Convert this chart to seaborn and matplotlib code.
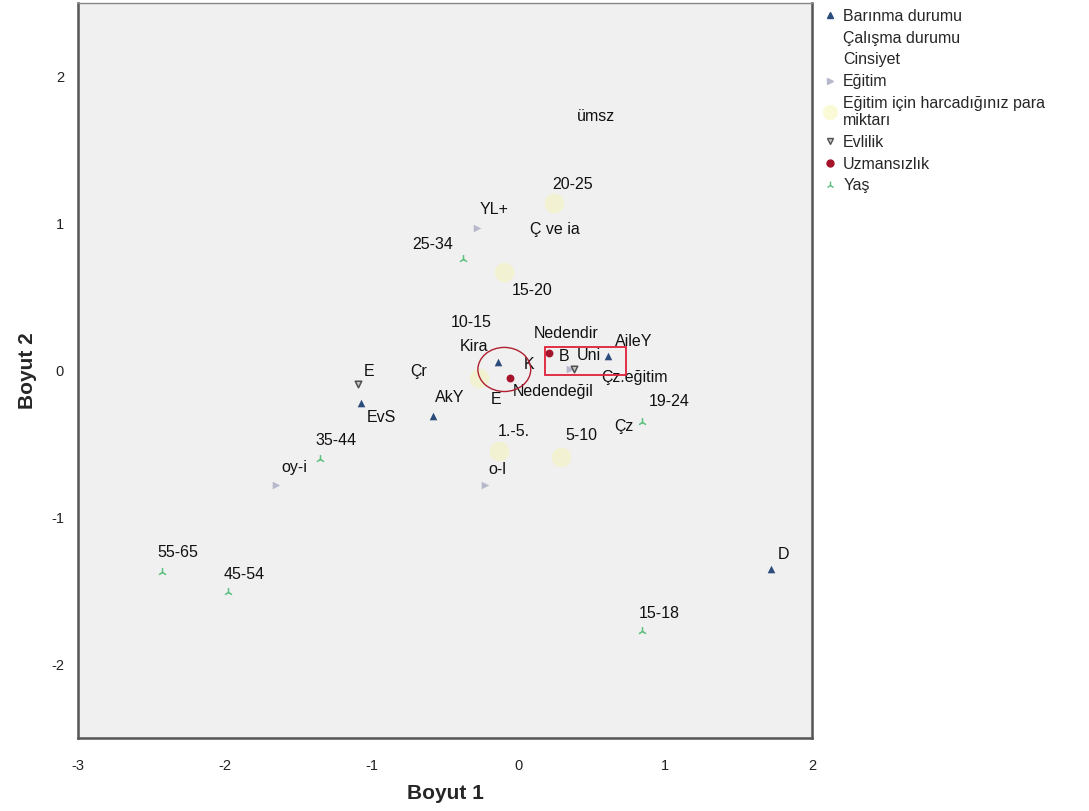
import numpy as np
import pandas as pd
import matplotlib
matplotlib.use("Agg")
import matplotlib.pyplot as plt
from matplotlib.lines import Line2D
from matplotlib.patches import Ellipse, Rectangle
import seaborn as sns

# ---------------- data ----------------
barinma_lab = ["Kira", "AileY", "EvS", "AkY", "D"]
barinma_x = [-0.14, 0.61, -1.07, -0.58, 1.72]
barinma_y = [0.06, 0.10, -0.22, -0.31, -1.35]

calisma_lab = ["Çr", "Çz", "Ç ve ia", "Çz.eğitim", "ümsz"]
calisma_x = [-0.68, 0.72, 0.25, 0.79, 0.53]
calisma_y = [-0.01, -0.38, 0.96, -0.05, 1.73]

cinsiyet_lab = ["K", "E"]
cinsiyet_x = [0.07, -0.15]
cinsiyet_y = [0.04, -0.20]

egitim_lab = ["YL+", "oy-i", "o-l", "Uni"]
egitim_x = [-0.28, -1.65, -0.23, 0.35]
egitim_y = [0.97, -0.78, -0.78, 0.01]

para_lab = ["20-25", "15-20", "10-15", "1.-5.", "5-10"]
para_x = [0.24, -0.10, -0.27, -0.13, 0.29]
para_y = [1.14, 0.67, -0.05, -0.55, -0.59]

evlilik_lab = ["E", "B"]
evlilik_x = [-1.09, 0.38]
evlilik_y = [-0.09, 0.01]

uzman_lab = ["Nedendir", "Nedendeğil"]
uzman_x = [0.21, -0.06]
uzman_y = [0.12, -0.05]

yas_lab = ["25-34", "35-44", "55-65", "45-54", "15-18", "19-24"]
yas_x = [-0.38, -1.35, -2.43, -1.98, 0.84, 0.84]
yas_y = [0.76, -0.60, -1.37, -1.51, -1.77, -0.35]

legend_names = ["Barınma durumu", "Çalışma durumu", "Cinsiyet", "Eğitim",
                "Eğitim için harcadığınız para\nmiktarı", "Evlilik", "Uzmansızlık", "Yaş"]

x_ticks = [-3, -2, -1, 0, 1, 2]
y_ticks = [-2, -1, 0, 1, 2]

# ---------------- styling ----------------
sns.set_style("white")
plt.rcParams["font.family"] = ["Liberation Sans", "DejaVu Sans"]

groups = [
    # name, labels, x, y, marker, color, size, alpha, label offsets (pixels)
    (legend_names[0], barinma_lab, barinma_x, barinma_y, "^", "#2c4c7c", 30, 1.0,
     [(-24, 15), (26, 14), (20, -15), (16, 19), (13, 14)]),
    (legend_names[1], calisma_lab, calisma_x, calisma_y, None, None, 0, 0,
     [(0, 0)] * 5),
    (legend_names[2], cinsiyet_lab, cinsiyet_x, cinsiyet_y, None, None, 0, 0,
     [(0, 0)] * 2),
    (legend_names[3], egitim_lab, egitim_x, egitim_y, ">", "#b8b8cc", 30, 1.0,
     [(17, 18), (18, 18), (13, 16), (19, 14)]),
    (legend_names[4], para_lab, para_x, para_y, "o", "#f6f6b0", 200, 0.45,
     [(19, 18), (28, -18), (-8, 55), (14, 20), (20, 22)]),
    (legend_names[5], evlilik_lab, evlilik_x, evlilik_y, "v", "#505050", 22, 1.0,
     [(11, 12), (-10, 13)]),
    (legend_names[6], uzman_lab, uzman_x, uzman_y, "o", "#a5142a", 32, 1.0,
     [(17, 19), (44, -14)]),
    (legend_names[7], yas_lab, yas_x, yas_y, "2", "#5cbf7e", 40, 1.0,
     [(-30, 14), (16, 18), (16, 19), (16, 18), (18, 17), (27, 20)]),
]

fig = plt.figure(figsize=(10.89, 8.11), dpi=100)
ax = fig.add_axes([78 / 1089, 73 / 811, 734 / 1089, 735 / 811])
ax.set_facecolor("#f0f0f0")

handles = []
for name, labs, xs, ys, mk, col, size, alpha, offs in groups:
    df = pd.DataFrame({"x": xs, "y": ys, "lab": labs})
    if mk is not None:
        if mk == "2":
            sns.scatterplot(data=df, x="x", y="y", marker=mk, color=col, s=size,
                            linewidth=1.1, ax=ax, legend=False, zorder=3)
        elif mk == "v":
            sns.scatterplot(data=df, x="x", y="y", marker=mk, facecolor="#c8c8c8",
                            edgecolor=col, linewidth=1.1, s=size, ax=ax, legend=False, zorder=3)
        else:
            sns.scatterplot(data=df, x="x", y="y", marker=mk, color=col, s=size,
                            alpha=alpha, linewidth=0, ax=ax, legend=False, zorder=3)
        for (lx, ly, lt), (dx, dy) in zip(zip(xs, ys, labs), offs):
            ax.annotate(lt, (lx, ly), xytext=(dx, dy), textcoords="offset pixels",
                        ha="center", va="center", fontsize=11.5, color="#111111", zorder=4)
        if mk == "o" and alpha < 1:
            h = Line2D([], [], marker="o", linestyle="None", markersize=11,
                       markerfacecolor=col, markeredgecolor="none", alpha=0.5)
        elif mk == "v":
            h = Line2D([], [], marker="v", linestyle="None", markersize=5,
                       markerfacecolor="#c8c8c8", markeredgecolor=col)
        elif mk == "2":
            h = Line2D([], [], marker="2", linestyle="None", markersize=6, color=col)
        else:
            h = Line2D([], [], marker=mk, linestyle="None", markersize=5, color=col)
    else:
        for lx, ly, lt in zip(xs, ys, labs):
            ax.annotate(lt, (lx, ly), ha="center", va="center",
                        fontsize=11.5, color="#111111", zorder=4)
        h = Line2D([], [], marker="None", linestyle="None")
    handles.append(h)

# red highlight shapes
ax.add_patch(Ellipse((-0.096, 0.007), 0.36, 0.30, fill=False,
                     edgecolor="#b02030", linewidth=1.0, zorder=5))
ax.add_patch(Rectangle((0.178, -0.034), 0.553, 0.197, fill=False,
                       edgecolor="#e0203a", linewidth=1.3, zorder=5))

ax.set_xlim(-3, 2)
ax.set_ylim(-2.5, 2.5)
ax.set_xticks(x_ticks)
ax.set_yticks(y_ticks)
ax.set_xticklabels([str(t) for t in x_ticks])
ax.set_yticklabels([str(t) for t in y_ticks])
ax.tick_params(axis="both", direction="out", length=7, width=1.2, color="#444444",
               labelsize=10.5, labelcolor="#222222", pad=3)
ax.tick_params(axis="x", pad=8)
ax.set_xlabel("Boyut 1", fontsize=15, fontweight="bold", labelpad=8)
ax.set_ylabel("Boyut 2", fontsize=15, fontweight="bold", labelpad=10)

for side in ["left", "bottom", "right"]:
    ax.spines[side].set_color("#555555")
    ax.spines[side].set_linewidth(1.8)
ax.spines["top"].set_color("#888888")
ax.spines["top"].set_linewidth(1.0)

fig.legend(handles, legend_names, loc="upper left",
           bbox_to_anchor=(824 / 1089, 1 - 9 / 811), frameon=False,
           fontsize=11.5, handlelength=0.8, handletextpad=0.4,
           labelspacing=0.42, borderaxespad=0, borderpad=0)

fig.savefig("out.png", dpi=100)
